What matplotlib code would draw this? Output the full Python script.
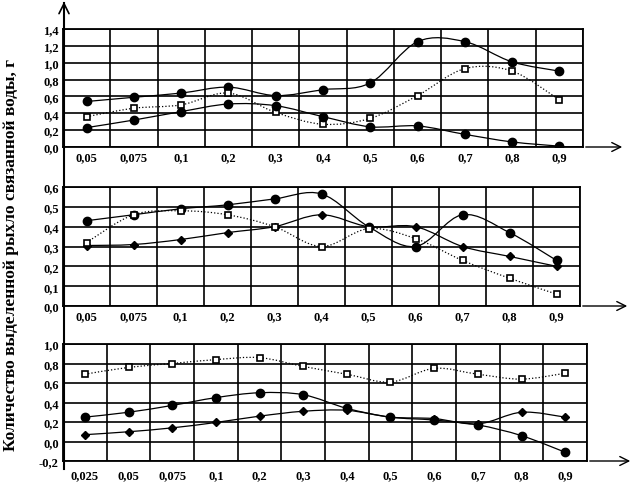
import numpy as np
import matplotlib
matplotlib.use('Agg')
import matplotlib.pyplot as plt
from matplotlib.path import Path
from matplotlib.patches import PathPatch

plt.rcParams['font.family'] = ['Liberation Serif', 'DejaVu Serif']
plt.rcParams['font.weight'] = 'bold'

# panel 1
x1 = ['0,05', '0,075', '0,1', '0,2', '0,3', '0,4', '0,5', '0,6', '0,7', '0,8', '0,9']
p1_upper = [0.54, 0.59, 0.64, 0.71, 0.61, 0.68, 0.76, 1.25, 1.25, 1.01, 0.90]
p1_dotted = [0.36, 0.46, 0.50, 0.64, 0.41, 0.27, 0.34, 0.61, 0.93, 0.90, 0.56]
p1_lower = [0.23, 0.32, 0.42, 0.51, 0.49, 0.36, 0.24, 0.25, 0.15, 0.06, 0.01]

# panel 2
x2 = ['0,05', '0,075', '0,1', '0,2', '0,3', '0,4', '0,5', '0,6', '0,7', '0,8', '0,9']
p2_upper = [0.43, 0.46, 0.49, 0.51, 0.54, 0.565, 0.40, 0.30, 0.46, 0.37, 0.23]
p2_middle = [0.305, 0.31, 0.335, 0.37, 0.40, 0.46, 0.40, 0.40, 0.30, 0.25, 0.20]
p2_dotted = [0.32, 0.46, 0.48, 0.46, 0.40, 0.30, 0.39, 0.34, 0.23, 0.14, 0.06]

# panel 3
x3 = ['0,025', '0,05', '0,075', '0,1', '0,2', '0,3', '0,4', '0,5', '0,6', '0,7', '0,8', '0,9']
p3_dotted = [0.69, 0.76, 0.80, 0.84, 0.86, 0.77, 0.69, 0.61, 0.75, 0.69, 0.64, 0.70]
p3_upper = [0.25, 0.30, 0.37, 0.45, 0.50, 0.48, 0.34, 0.25, 0.22, 0.17, 0.06, -0.11]
p3_lower = [0.07, 0.10, 0.14, 0.195, 0.26, 0.31, 0.32, 0.25, 0.235, 0.18, 0.30, 0.25]


def smooth_line(ax, vals, ls='-', lw=0.9):
    # smoothed curve through the points (Catmull-Rom as bezier)
    p = np.column_stack([np.arange(len(vals)), vals]).astype(float)
    verts = [p[0]]
    codes = [Path.MOVETO]
    n = len(p)
    for i in range(n - 1):
        p0 = p[i - 1] if i > 0 else p[i]
        p3 = p[i + 2] if i + 2 < n else p[i + 1]
        c1 = p[i] + (p[i + 1] - p0) / 6
        c2 = p[i + 1] - (p3 - p[i]) / 6
        verts += [c1, c2, p[i + 1]]
        codes += [Path.CURVE4] * 3
    ax.add_patch(PathPatch(Path(verts, codes), fill=False, lw=lw,
                           ls=ls, ec='black', zorder=3))


def setup(ax, labels, ylo, yhi, ystep, pad):
    n = len(labels)
    ax.set_xlim(-0.5, n - 0.5)
    ax.set_ylim(ylo, yhi)
    ax.set_xticks(range(n))
    ax.set_xticklabels(labels, fontsize=9, fontweight='bold')
    ax.set_xticks(np.arange(-0.5, n, 0.5), minor=True)
    yt = np.round(np.arange(ylo, yhi + 1e-9, ystep), 2)
    ax.set_yticks(yt)
    ax.set_yticklabels([('%.1f' % v).replace('.', ',') for v in yt],
                       fontsize=9, fontweight='bold')
    ax.tick_params(which='both', length=0)
    ax.tick_params(axis='x', pad=pad)
    ax.tick_params(axis='y', pad=3)
    ax.grid(which='minor', axis='x', color='black', lw=1.2)
    ax.grid(which='major', axis='y', color='black', lw=1.2)
    for s in ax.spines.values():
        s.set_linewidth(1.3)
    ax.set_axisbelow(True)


W, H = 635, 485
fig = plt.figure(figsize=(W / 100, H / 100), dpi=100)


def box(l, r, t, b):
    return [l / W, (H - b) / H, (r - l) / W, (b - t) / H]


ax1 = fig.add_axes(box(63, 583, 30, 148))
ax2 = fig.add_axes(box(63, 580, 188, 307))
ax3 = fig.add_axes(box(63, 587, 345, 462))

setup(ax1, x1, 0.0, 1.4, 0.2, 3)
setup(ax2, x2, 0.0, 0.6, 0.1, 3)
setup(ax3, x3, -0.2, 1.0, 0.2, 6)

circ = dict(marker='o', ms=6, color='black', ls='none', zorder=4)
dia = dict(marker='D', ms=4.5, color='black', ls='none', zorder=4)
sq = dict(marker='s', ms=5, mfc='white', mec='black', mew=1.2,
          ls='none', zorder=4)

for vals, ls, m in [(p1_upper, '-', circ), (p1_dotted, ':', sq), (p1_lower, '-', circ)]:
    smooth_line(ax1, vals, ls)
    ax1.plot(range(len(vals)), vals, **m)

for vals, ls, m in [(p2_upper, '-', circ), (p2_middle, '-', dia), (p2_dotted, ':', sq)]:
    smooth_line(ax2, vals, ls)
    ax2.plot(range(len(vals)), vals, **m)

for vals, ls, m in [(p3_dotted, ':', sq), (p3_upper, '-', circ), (p3_lower, '-', dia)]:
    smooth_line(ax3, vals, ls)
    ax3.plot(range(len(vals)), vals, **m)

# overlay for axis arrows
ov = fig.add_axes([0, 0, 1, 1], facecolor='none')
ov.set_xlim(0, W)
ov.set_ylim(H, 0)
ov.axis('off')
ov.plot([64, 64], [470, 4], color='black', lw=1.5)
ov.annotate('', xy=(64, 0), xytext=(64, 20),
            arrowprops=dict(arrowstyle='->', lw=1.2, color='black',
                            mutation_scale=18))
for y0, x0, x1e in [(148, 583, 625), (307, 580, 630), (462, 587, 633)]:
    ov.annotate('', xy=(x1e, y0), xytext=(x0, y0),
                arrowprops=dict(arrowstyle='->', lw=1.0, color='black',
                                mutation_scale=16))

fig.text(0.017, 0.475, 'Количество выделенной рыхло связанной воды, г',
         rotation=90, va='center', ha='center', fontsize=12.5,
         fontweight='bold')

fig.savefig('out.png', dpi=100)
